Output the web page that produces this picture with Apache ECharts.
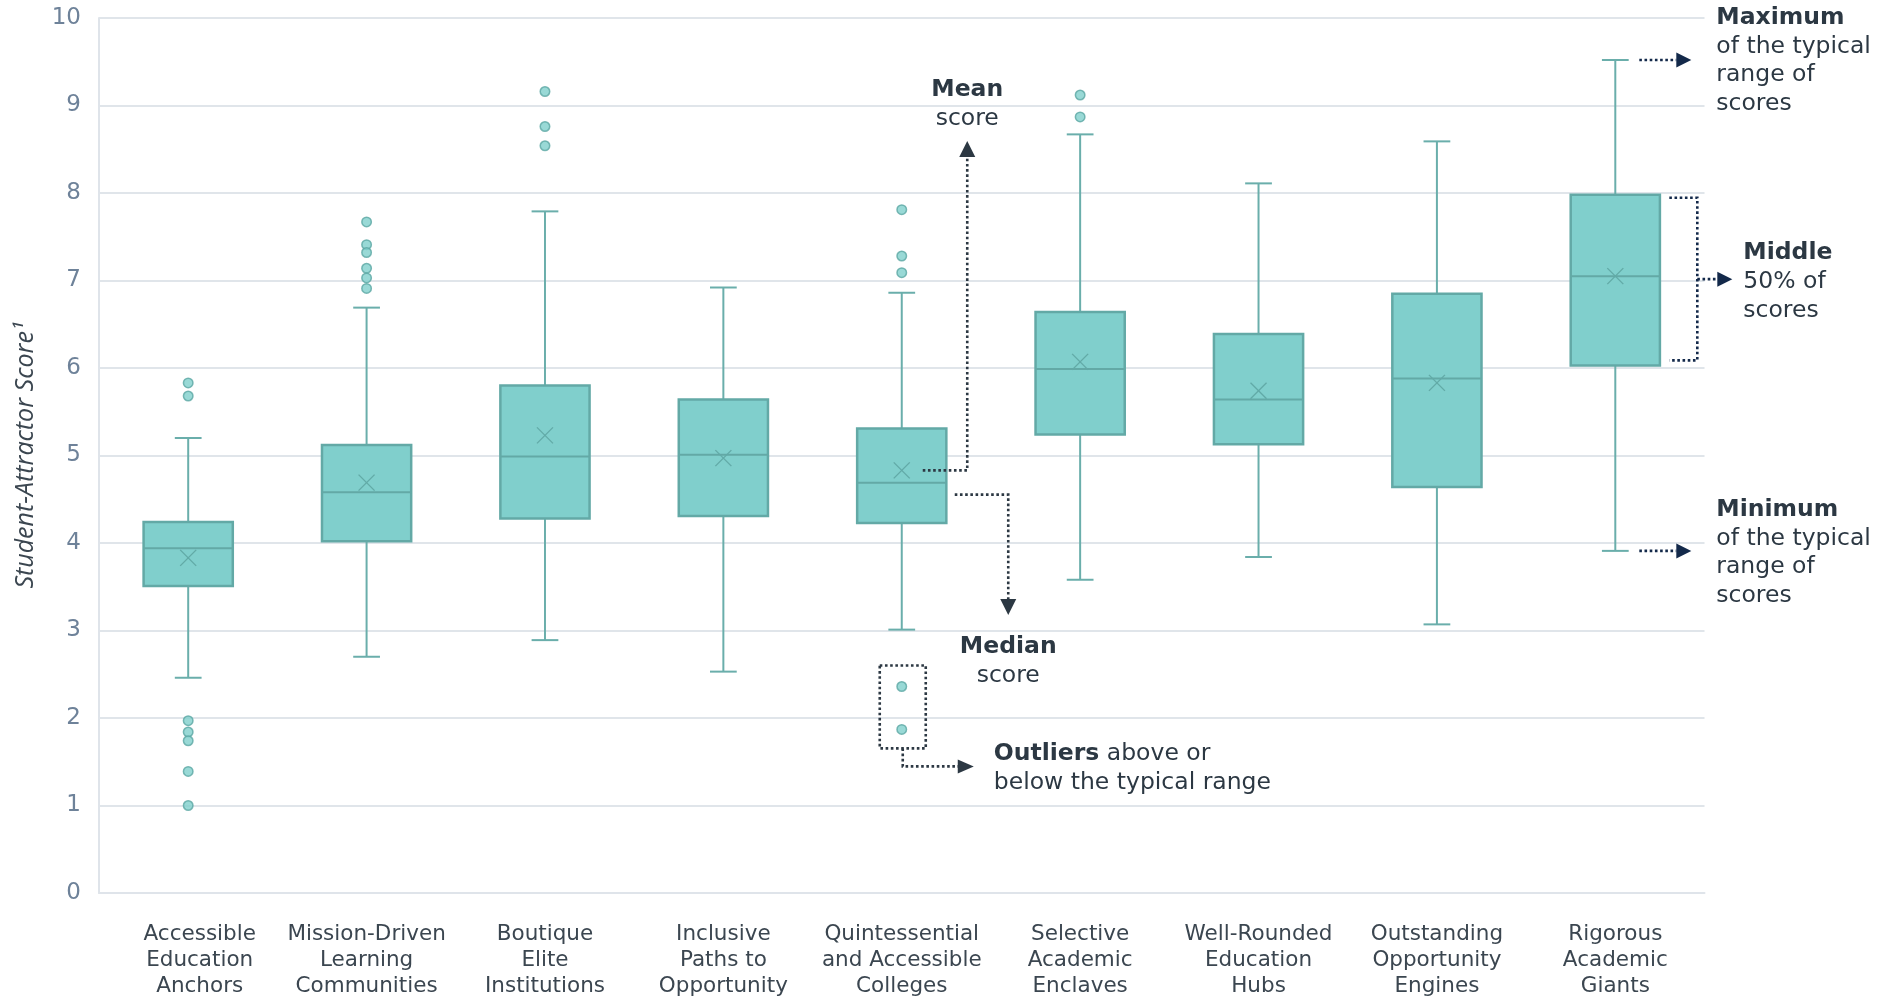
<!DOCTYPE html>
<html><head><meta charset="utf-8">
<script src="https://cdn.jsdelivr.net/npm/echarts@6/dist/echarts.min.js"></script>
<style>html,body{margin:0;padding:0;background:#fff}#c{width:1894px;height:1000px}</style>
</head><body><div id="c"></div>
<script>
const categories = [
  'Accessible\nEducation\nAnchors',
  'Mission-Driven\nLearning\nCommunities',
  'Boutique\nElite\nInstitutions',
  'Inclusive\nPaths to\nOpportunity',
  'Quintessential\nand Accessible\nColleges',
  'Selective\nAcademic\nEnclaves',
  'Well-Rounded\nEducation\nHubs',
  'Outstanding\nOpportunity\nEngines',
  'Rigorous\nAcademic\nGiants'
];
const mins    = [2.46, 2.70, 2.89, 2.53, 3.01, 3.58, 3.84, 3.07, 3.91];
const q1s     = [3.51, 4.02, 4.28, 4.31, 4.23, 5.24, 5.13, 4.64, 6.03];
const medians = [3.94, 4.58, 4.99, 5.01, 4.69, 5.99, 5.64, 5.88, 7.05];
const q3s     = [4.24, 5.12, 5.80, 5.64, 5.31, 6.64, 6.39, 6.85, 7.98];
const maxs    = [5.20, 6.69, 7.79, 6.92, 6.86, 8.67, 8.11, 8.59, 9.52];
const means   = [3.83, 4.69, 5.23, 4.97, 4.83, 6.07, 5.74, 5.83, 7.05];
const outliers = [
  [0, 5.83], [0, 5.68], [0, 1.97], [0, 1.84], [0, 1.74], [0, 1.39], [0, 1.00],
  [1, 7.67], [1, 7.41], [1, 7.32], [1, 7.14], [1, 7.03], [1, 6.91],
  [2, 9.16], [2, 8.76], [2, 8.54],
  [4, 7.81], [4, 7.28], [4, 7.09], [4, 2.36], [4, 1.87],
  [5, 9.12], [5, 8.87]
];
const yTicks = [0, 1, 2, 3, 4, 5, 6, 7, 8, 9, 10];

const FONT = '"DejaVu Sans", Verdana, sans-serif';
const boxData = categories.map((c, i) => [i, mins[i], q1s[i], medians[i], q3s[i], maxs[i], means[i]]);

function renderBox(params, api) {
  const i = api.value(0);
  const cx = api.coord([i, 0])[0];
  const y = k => api.coord([i, api.value(k)])[1];
  const yMin = y(1), yQ1 = y(2), yMed = y(3), yQ3 = y(4), yMax = y(5), yMean = y(6);
  const bw = api.size([1, 0])[0] * 0.5;
  const cap = bw * 0.3;
  const ls = { stroke: '#6aaeab', lineWidth: 2 };
  const xs = 8;
  const xStyle = { stroke: '#62aaa7', lineWidth: 1.4 };
  return {
    type: 'group',
    children: [
      { type: 'line', shape: { x1: cx, y1: yMax, x2: cx, y2: yQ3 }, style: ls },
      { type: 'line', shape: { x1: cx, y1: yQ1, x2: cx, y2: yMin }, style: ls },
      { type: 'line', shape: { x1: cx - cap / 2, y1: yMax, x2: cx + cap / 2, y2: yMax }, style: ls },
      { type: 'line', shape: { x1: cx - cap / 2, y1: yMin, x2: cx + cap / 2, y2: yMin }, style: ls },
      { type: 'rect', shape: { x: cx - bw / 2, y: yQ3, width: bw, height: yQ1 - yQ3 },
        style: { fill: '#80cfcc', stroke: '#63a9a6', lineWidth: 2.5 } },
      { type: 'line', shape: { x1: cx - bw / 2, y1: yMed, x2: cx + bw / 2, y2: yMed },
        style: { stroke: '#63a9a6', lineWidth: 2 } },
      { type: 'line', shape: { x1: cx - xs, y1: yMean - xs, x2: cx + xs, y2: yMean + xs }, style: xStyle },
      { type: 'line', shape: { x1: cx - xs, y1: yMean + xs, x2: cx + xs, y2: yMean - xs }, style: xStyle }
    ]
  };
}

const chart = echarts.init(document.getElementById('c'));
chart.setOption({
  animation: false,
  backgroundColor: '#ffffff',
  grid: { left: 99, right: 189.5, top: 18, bottom: 107 },
  xAxis: {
    type: 'category',
    data: categories,
    boundaryGap: true,
    axisLine: { show: true, lineStyle: { color: '#dfe4ea', width: 2 } },
    axisTick: { show: false },
    axisLabel: {
      color: '#3b4650', fontFamily: FONT, fontSize: 21.5, lineHeight: 26, margin: 28, interval: 0,
      formatter: (v, i) => i === 0 ? v.split('\n').map(s => '{s|' + s + '}').join('\n') : v,
      rich: { s: { color: '#3b4650', fontFamily: FONT, fontSize: 21.5, lineHeight: 26, padding: [0, 0, 0, 23] } }
    },
    splitLine: { show: false }
  },
  yAxis: {
    type: 'value',
    min: 0, max: 10, interval: 1,
    axisLine: { show: true, lineStyle: { color: '#dfe4ea', width: 2 } },
    axisTick: { show: false },
    axisLabel: { color: '#6e8299', fontFamily: FONT, fontSize: 23, margin: 18,
      formatter: v => (yTicks.indexOf(v) >= 0 ? String(v) : '') },
    splitLine: { show: true, lineStyle: { color: '#e0e5ea', width: 2 } },
    name: 'Student-Attractor Score¹',
    nameLocation: 'middle',
    nameGap: 61,
    nameTextStyle: { color: '#3b4650', fontFamily: '"Open Sans", sans-serif', fontStyle: 'italic', fontSize: 25 }
  },
  series: [
    { type: 'custom', name: 'box', renderItem: renderBox, data: boxData,
      encode: { x: 0, y: [1, 2, 3, 4, 5, 6] }, z: 2 },
    { type: 'scatter', name: 'outliers', data: outliers, symbol: 'circle', symbolSize: 9.5,
      itemStyle: { color: '#80cfcc', borderColor: '#5aa6a3', borderWidth: 1.5 }, z: 3 }
  ]
});

// Annotations anchored to data positions
const px = (i, v) => chart.convertToPixel({ gridIndex: 0 }, [i, v]);
const cx5 = px(4, 0)[0];
const yMean5 = px(4, means[4])[1];
const yMed5 = px(4, medians[4])[1];
const yOutHi = px(4, 2.36)[1];
const yOutLo = px(4, 1.87)[1];
const cx9 = px(8, 0)[0];
const yMax9 = px(8, maxs[8])[1];
const yMin9 = px(8, mins[8])[1];
const yQ3_9 = px(8, q3s[8])[1];
const yQ1_9 = px(8, q1s[8])[1];
const yMed9 = px(8, medians[8])[1];

const dark = '#2c3843';
const navy = '#13294a';
const dotted = c => ({ stroke: c, lineWidth: 2.6, lineDash: [2.6, 2.6], fill: null });
const ANN = 23.5;
const textEl = (x, y, text, align, lh) => ({
  type: 'text', x: x, y: y, z: 10,
  style: {
    text: text, fill: dark, font: ANN + 'px ' + FONT, align: align, verticalAlign: 'middle',
    lineHeight: lh,
    rich: { b: { fontWeight: 'bold', fontFamily: FONT, fontSize: ANN, fill: dark, lineHeight: lh } }
  }
});
const tri = (pts, c) => ({ type: 'polygon', z: 10, shape: { points: pts }, style: { fill: c } });
const poly = (pts, c) => ({ type: 'polyline', z: 10, shape: { points: pts }, style: dotted(c) });

const mx = cx5 + 65.5, mdx = cx5 + 106.5;
const graphics = [
  // Mean
  poly([[cx5 + 21, yMean5], [mx, yMean5], [mx, 156]], dark),
  tri([[mx, 141], [mx - 8, 157], [mx + 8, 157]], dark),
  textEl(mx, 104.5, '{b|Mean}\nscore', 'center', 29),
  // Median
  poly([[cx5 + 53, yMed5 + 12], [mdx, yMed5 + 12], [mdx, 600]], dark),
  tri([[mdx, 615], [mdx - 8, 599], [mdx + 8, 599]], dark),
  textEl(mdx, 661, '{b|Median}\nscore', 'center', 29),
  // Outliers
  poly([[cx5 - 22, yOutHi - 21], [cx5 + 24, yOutHi - 21], [cx5 + 24, yOutLo + 19], [cx5 - 22, yOutLo + 19], [cx5 - 22, yOutHi - 21]], dark),
  poly([[cx5 + 1, yOutLo + 19], [cx5 + 1, yOutLo + 37], [cx5 + 57, yOutLo + 37]], dark),
  tri([[cx5 + 72, yOutLo + 37], [cx5 + 56, yOutLo + 30], [cx5 + 56, yOutLo + 44]], dark),
  textEl(cx5 + 92, yOutLo + 39, '{b|Outliers} above or\nbelow the typical range', 'left', 29),
  // Maximum
  poly([[cx9 + 24, yMax9], [cx9 + 61, yMax9]], navy),
  tri([[cx9 + 76, yMax9], [cx9 + 61, yMax9 - 7.5], [cx9 + 61, yMax9 + 7.5]], navy),
  textEl(cx9 + 101, 61, '{b|Maximum}\nof the typical\nrange of\nscores', 'left', 28.7),
  // Middle
  poly([[cx9 + 54, yQ3_9 + 3], [cx9 + 82, yQ3_9 + 3], [cx9 + 82, yQ1_9 - 5], [cx9 + 54, yQ1_9 - 5]], navy),
  poly([[cx9 + 82, yMed9 + 3], [cx9 + 102, yMed9 + 3]], navy),
  tri([[cx9 + 117, yMed9 + 3], [cx9 + 102, yMed9 - 4.5], [cx9 + 102, yMed9 + 10.5]], navy),
  textEl(cx9 + 128, 282, '{b|Middle}\n50% of\nscores', 'left', 28.7),
  // Minimum
  poly([[cx9 + 24, yMin9], [cx9 + 61, yMin9]], navy),
  tri([[cx9 + 76, yMin9], [cx9 + 61, yMin9 - 7.5], [cx9 + 61, yMin9 + 7.5]], navy),
  textEl(cx9 + 101, 553, '{b|Minimum}\nof the typical\nrange of\nscores', 'left', 28.7)
];
chart.setOption({ graphic: graphics });
</script>
</body></html>
